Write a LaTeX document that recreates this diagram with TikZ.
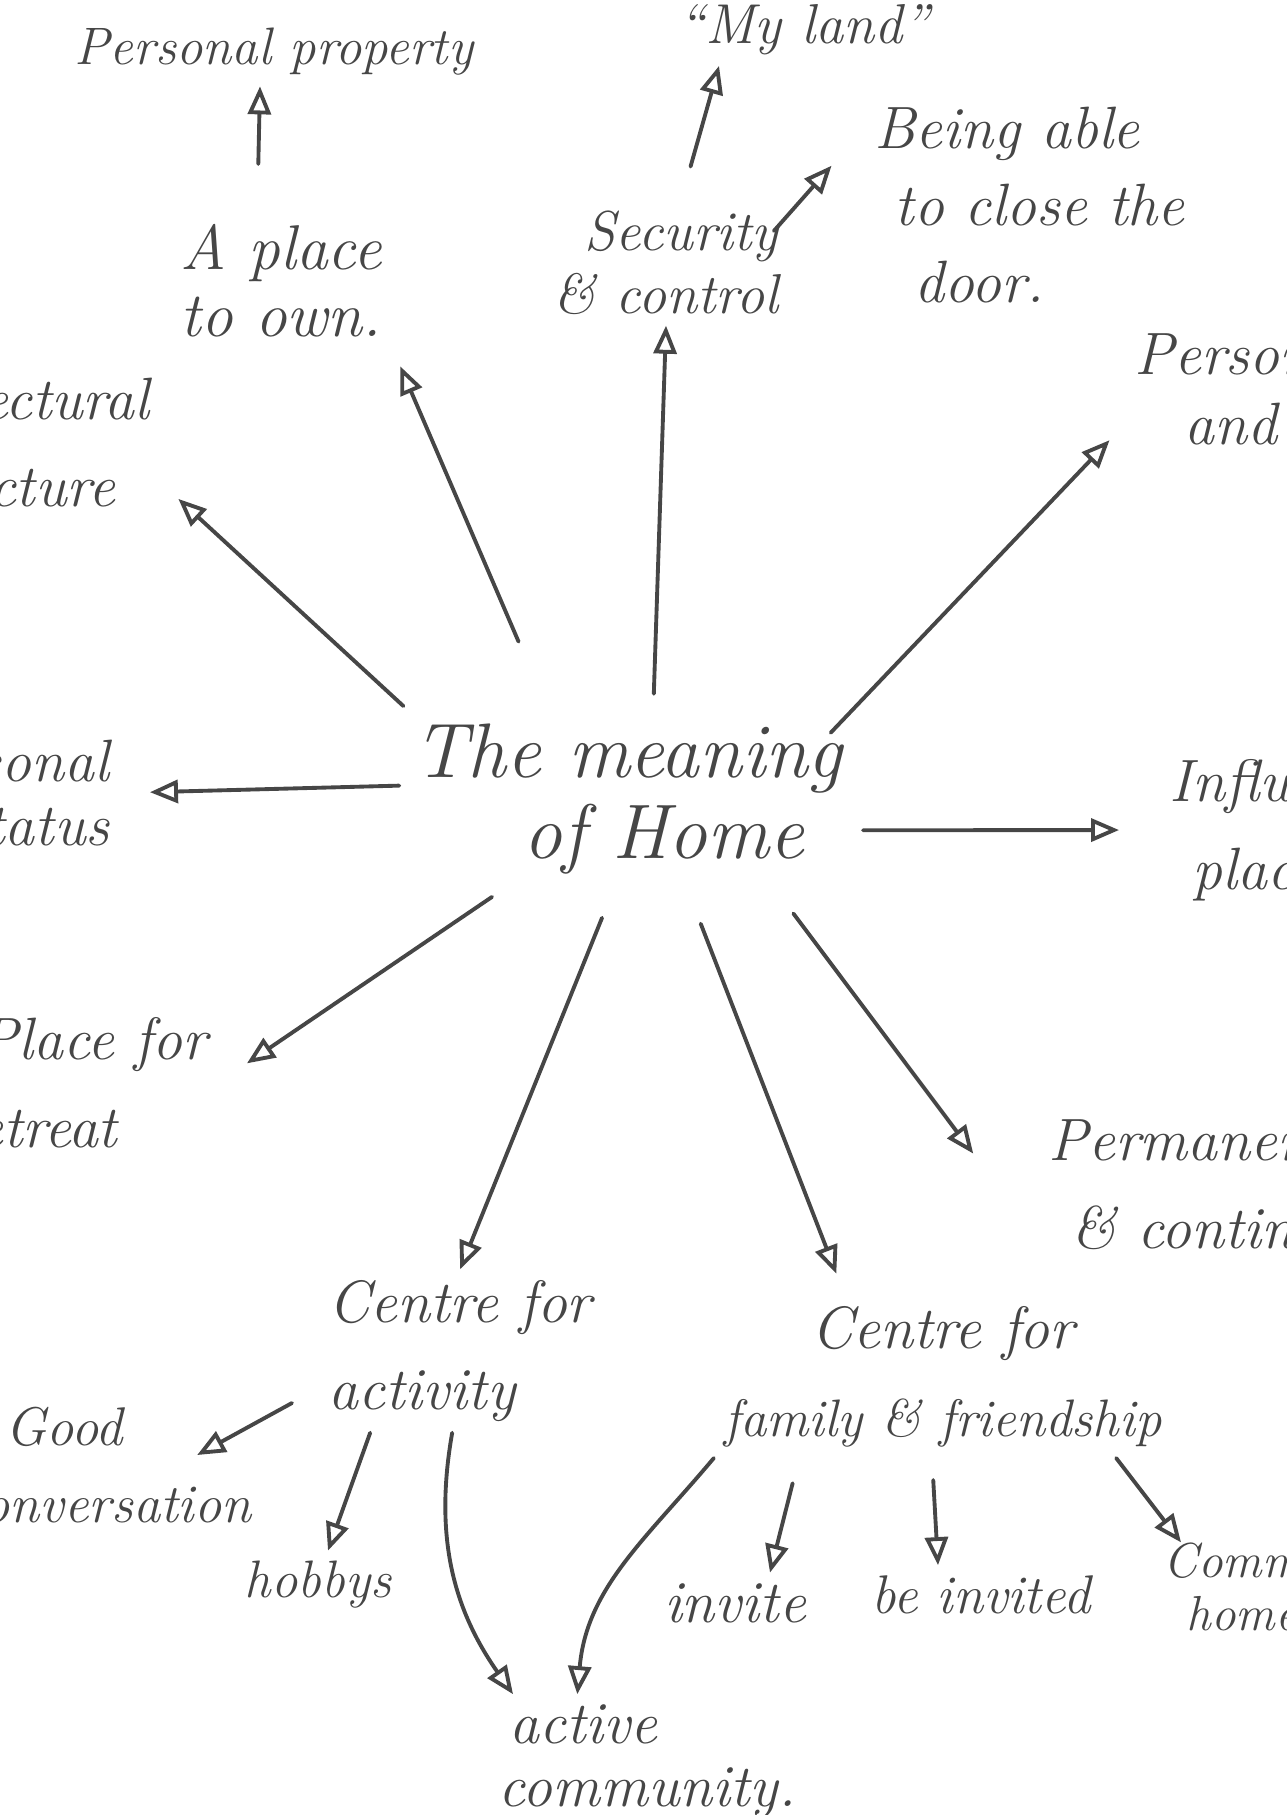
\documentclass[tikz,border=0pt]{standalone}
\usepackage{xcolor}
\usetikzlibrary{arrows.meta, shapes.geometric}
\definecolor{ink}{HTML}{464646}
\begin{document}
\begin{tikzpicture}[x=0.1mm, y=-0.1mm,
          idea/.style = {font=\fontsize{17}{25}\selectfont\itshape, text=ink,
                         align=left, inner sep=1mm},
          hub/.style = {font=\fontsize{22}{23}\selectfont\itshape, text=ink,
                        align=left, inner sep=0pt},
          arr/.style = {draw=ink, line width=1.1pt, line cap=round,
                        -{Triangle[open, length=2.8mm, width=2.3mm, line width=1.1pt]}} ]
   \useasboundingbox (0,0) rectangle (1286,1815);
   \clip (0,0) rectangle (1286,1815);

   % the centre
   \node (home) [ellipse, minimum width=47.2mm, minimum height=22.4mm, inner sep=0pt,
                 label={[hub, xshift=-0.4mm, yshift=0.7mm]center:{The meaning\\\hspace*{11mm}of Home}}]
         at (632,806) {};

   % upper ideas
   \node (prop)  [idea, font=\fontsize{15}{18}\selectfont\itshape] at (274,52) {Personal property};
   \node (land)  [idea, font=\fontsize{16}{18}\selectfont\itshape] at (804,30) {``My land''};
   \node (own)   [idea, anchor=west, font=\fontsize{18}{19}\selectfont\itshape] at (170,281)
         {A place\\to own.};
   \node (sec)   [idea, align=right, font=\fontsize{16}{18}\selectfont\itshape] at (666,263)
         {Security\\\& control};
   \node (door)  [idea, anchor=west, font=\fontsize{17}{22}\selectfont\itshape] at (864,205)
         {Being able\\\hspace*{2mm}to close the\\\hspace*{4mm}door.};
   \node (perso) [idea, anchor=west, font=\fontsize{17}{20}\selectfont\itshape] at (1124,389)
         {Personal\\\hspace*{5mm}and};
   \node (arch)  [idea, anchor=east, align=right] at (160,442)
         {Architectural\\structure\hspace*{3.4mm}};
   \node (status)[idea, anchor=east, align=right, font=\fontsize{17}{18}\selectfont\itshape] at (120,793)
         {Personal\\status};
   \node (infl)  [idea, anchor=west] at (1159,830) {Influence\\\hspace*{2.3mm}place};

   % lower ideas
   \node (retreat) [idea, anchor=east, align=right] at (218,1083)
         {Place for\\retreat\hspace*{9mm}};
   \node (perm)  [idea, anchor=west] at (1038,1190)
         {Permanence\\\hspace*{2.3mm}\& continuity};
   \node (activity) [idea, anchor=west] at (318,1351) {Centre for\\activity};
   \node (family) [idea, align=center] at (943,1377)
         {Centre for\\{\fontsize{15}{25}\selectfont family \& friendship}};
   \node (good)  [idea, anchor=west, font=\fontsize{15.5}{22}\selectfont\itshape] at (-50,1465)
         {\hspace*{4.5mm}Good\\conversation};
   \node (hobbys)[idea, font=\fontsize{15}{18}\selectfont\itshape] at (318,1585) {hobbys};
   \node (active)[idea, anchor=west, font=\fontsize{17}{18}\selectfont\itshape] at (488,1762)
         {\hspace*{1.1mm}active\\community.};
   \node (invite)[idea] at (735,1603) {invite};
   \node (invited)[idea, font=\fontsize{15.5}{18}\selectfont\itshape] at (981,1595) {be invited};
   \node (comm)  [idea, anchor=west, font=\fontsize{14}{15}\selectfont\itshape] at (1153,1587)
         {Communal\\\hspace*{2.3mm}home};

   % spokes from the centre
   \draw[arr] (home.79) -- (sec.south);
   \draw[arr, shorten <=6.5mm, shorten >=2mm] (home.130) -- (own.south east);
   \draw[arr, shorten <=5mm, shorten >=2.5mm] (home.161) -- ([yshift=-4mm]arch.east);
   \draw[arr, shorten >=3mm] (home.175) -- (status.east);
   \draw[arr, shorten >=3.5mm] (home.-147) -- (retreat.east);
   \draw[arr] (home.-105) -- (activity.north);
   \draw[arr, shorten <=1mm, shorten >=2.4mm] (home.-59) -- ([xshift=-9.8mm]family.north);
   \draw[arr, shorten <=2.4mm, shorten >=10.8mm] (home.-31) -- ([yshift=-5mm]perm.west);
   \draw[arr, shorten >=4mm] (home.-6) -- (infl.west);
   \draw[arr, shorten <=1mm, shorten >=2.1mm] (home.19) -- ([yshift=-3.6mm]perso.west);

   % second ring
   \draw[arr, shorten <=5mm] ([xshift=-2.4mm]own.north) -- ([xshift=-1.4mm]prop.south);
   \draw[arr, shorten <=3.5mm] ([xshift=1.5mm]sec.north) -- ([xshift=-8.5mm]land.south);
   \draw[arr, shorten >=4.9mm] ([xshift=-1.5mm, yshift=3.2mm]sec.east) -- ([yshift=7.6mm]door.west);
   \draw[arr] ([xshift=-2.6mm, yshift=-5.2mm]activity.west) -- ([xshift=-6.5mm, yshift=1mm]good.east);
   \draw[arr] ([xshift=-9mm]activity.south) -- ([xshift=1mm]hobbys.north);
   \draw[arr] ([xshift=-0.8mm]activity.south) to[out=-100, in=125] ([xshift=2.5mm]active.north west);
   \draw[arr] (family.south west) to[out=-130, in=85] ([xshift=-7mm]active.north);
   \draw[arr, shorten <=2.6mm] ([xshift=-14.4mm]family.south) -- ([xshift=3.5mm]invite.north);
   \draw[arr, shorten <=2.2mm] ([xshift=-1.1mm]family.south) -- ([xshift=-4.3mm]invited.north);
   \draw[arr] ([xshift=-5.6mm]family.south east) -- ([xshift=2.8mm, yshift=-1mm]comm.north west);
\end{tikzpicture}
\end{document}
